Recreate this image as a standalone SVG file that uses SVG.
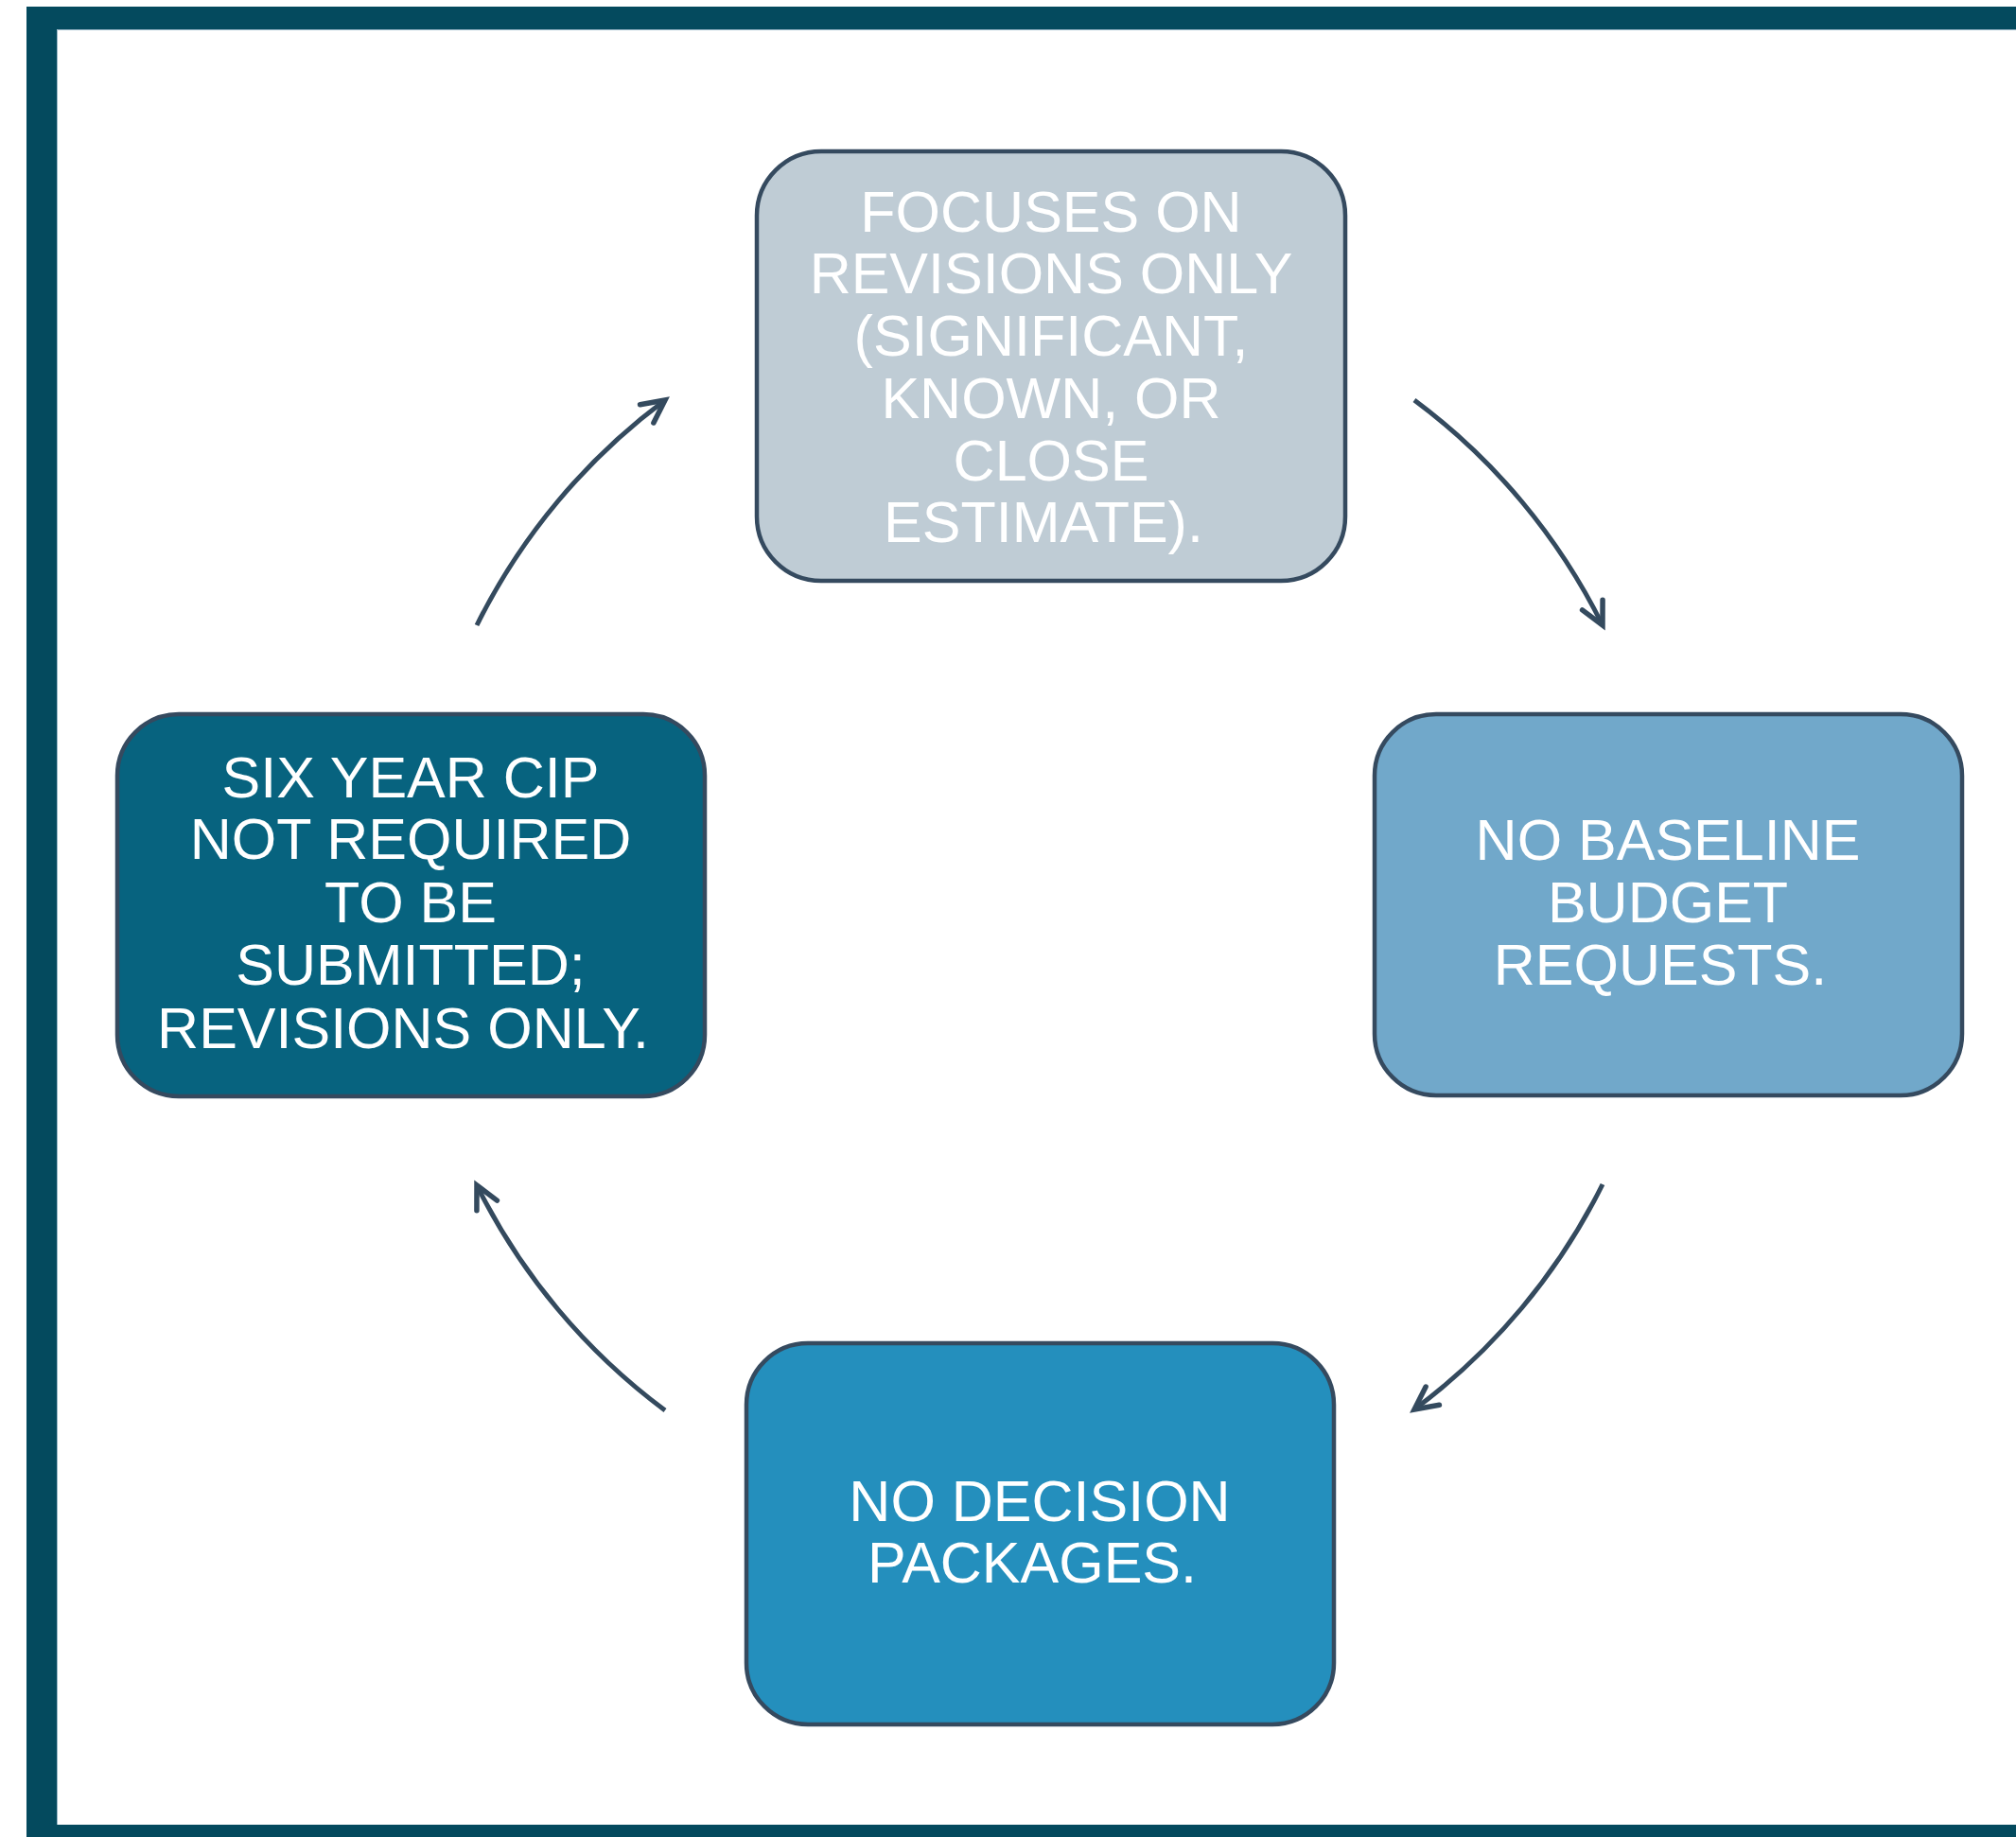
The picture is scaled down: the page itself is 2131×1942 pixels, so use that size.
<svg xmlns="http://www.w3.org/2000/svg" width="2131" height="1942" viewBox="0 0 2131 1942">
  <style>
    .node rect { stroke: #354a5f; stroke-width: 4.5; }
    .node text { font-family: "Liberation Sans", Arial, sans-serif; font-size: 61px; fill: #ffffff; text-anchor: middle; }
    .conn path { fill: none; stroke: #344a5e; stroke-width: 5; marker-end: url(#ah); }
    .frame { fill: #044a5e; }
  </style>
  <defs>
    <marker id="ah" markerUnits="userSpaceOnUse" orient="auto" overflow="visible" viewBox="-30 -20 40 40" markerWidth="40" markerHeight="40" refX="0" refY="0">
      <path d="M -24 -12 L 0 0 L -24 12" fill="none" stroke="#344a5e" stroke-width="5.5" stroke-linecap="round" stroke-linejoin="miter"/>
    </marker>
  </defs>
  <rect width="2131" height="1942" fill="#ffffff"/>
  <g id="frame">
    <rect class="frame" x="28" y="7" width="2103" height="24"/>
    <rect class="frame" x="28" y="7" width="32" height="1935"/>
    <rect class="frame" x="28" y="1929" width="2103" height="13"/>
    <path d="M 60.5 1929 V 31.5 H 2131" fill="none" stroke="#9bb8c8" stroke-width="1"/>
  </g>
  <g id="connectors" class="conn">
    <path d="M 504 661 A 665 665 0 0 1 703 423"/>
    <path d="M 1495 423 A 665 665 0 0 1 1694 661"/>
    <path d="M 1694 1252 A 665 665 0 0 1 1495 1490"/>
    <path d="M 703 1491 A 665 665 0 0 1 504 1253"/>
  </g>
  <g id="node-top" class="node">
    <rect x="800" y="160" width="622" height="454" rx="68" ry="68" fill="#bfccd5"/>
    <text x="1111" y="245">FOCUSES ON</text>
    <text x="1111" y="310">REVISIONS ONLY</text>
    <text x="1111" y="376">(SIGNIFICANT,</text>
    <text x="1111" y="442">KNOWN, OR</text>
    <text x="1111" y="508">CLOSE</text>
    <text x="1103" y="573">ESTIMATE).</text>
  </g>
  <g id="node-right" class="node">
    <rect x="1453" y="755" width="621" height="403" rx="65" ry="65" fill="#71a8ca"/>
    <text x="1763" y="909">NO BASELINE</text>
    <text x="1763" y="975">BUDGET</text>
    <text x="1755" y="1041">REQUESTS.</text>
  </g>
  <g id="node-bottom" class="node">
    <rect x="789" y="1420" width="621" height="403" rx="65" ry="65" fill="#248fbd"/>
    <text x="1099" y="1608">NO DECISION</text>
    <text x="1091" y="1673">PACKAGES.</text>
  </g>
  <g id="node-left" class="node">
    <rect x="124" y="755" width="621" height="404" rx="65" ry="65" fill="#07637f"/>
    <text x="434" y="843">SIX YEAR CIP</text>
    <text x="434" y="908">NOT REQUIRED</text>
    <text x="434" y="975">TO BE</text>
    <text x="434" y="1041">SUBMITTED;</text>
    <text x="426" y="1108">REVISIONS ONLY.</text>
  </g>
</svg>
